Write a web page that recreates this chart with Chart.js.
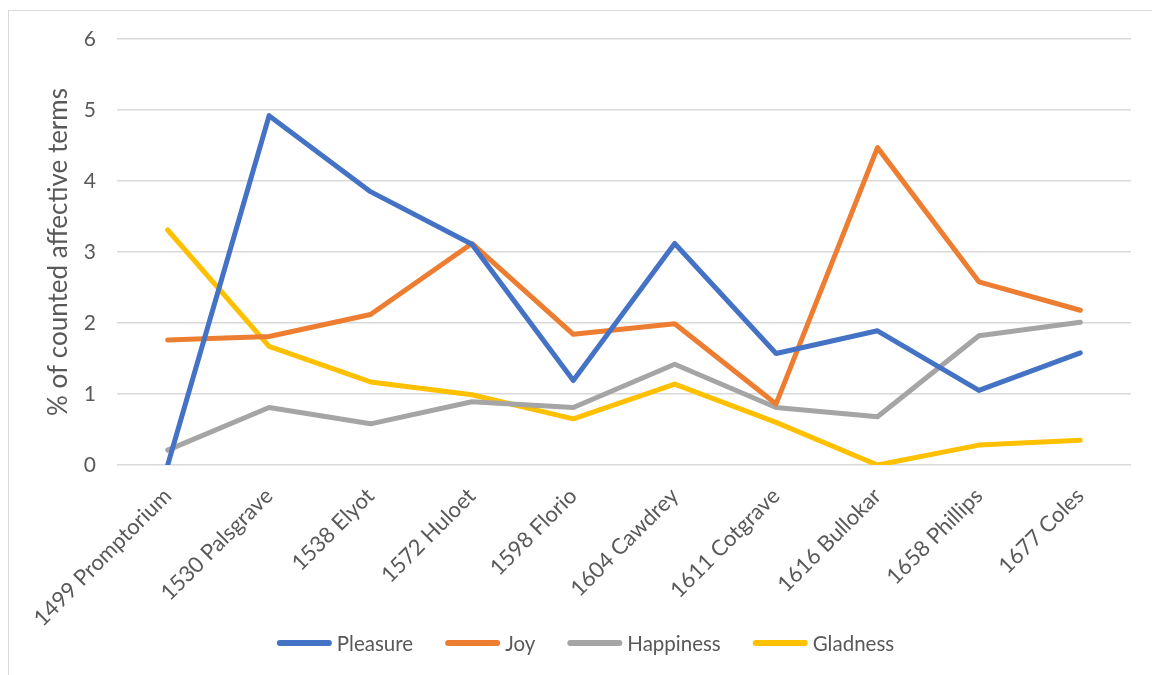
<!DOCTYPE html>
<html>
<head>
<meta charset="utf-8">
<script src="https://cdn.jsdelivr.net/npm/chart.js@4.4.1/dist/chart.umd.min.js"></script>
<style>
  html, body { margin: 0; padding: 0; background: #fff; overflow: hidden; }
  #wrap { position: relative; width: 1152px; height: 675px; }
  #frame {
    position: absolute; left: 8px; top: 10px; width: 1160px; height: 680px;
    border: 1.5px solid #d9d9d9; box-sizing: border-box;
  }
  canvas { position: absolute; left: 0; top: 0; }
</style>
</head>
<body>
<div id="wrap">
  <div id="frame"></div>
  <canvas id="lexChart" width="1152" height="675"></canvas>
</div>
<script>
const dictionaries = [
  "1499 Promptorium", "1530 Palsgrave", "1538 Elyot", "1572 Huloet", "1598 Florio",
  "1604 Cawdrey", "1611 Cotgrave", "1616 Bullokar", "1658 Phillips", "1677 Coles"
];

// % of counted affective terms per dictionary
const pleasure  = [0, 4.92, 3.85, 3.11, 1.19, 3.12, 1.57, 1.89, 1.05, 1.58];
const joy       = [1.76, 1.81, 2.12, 3.12, 1.84, 1.99, 0.86, 4.47, 2.58, 2.18];
const happiness = [0.21, 0.81, 0.58, 0.89, 0.81, 1.42, 0.81, 0.68, 1.82, 2.01];
const gladness  = [3.31, 1.67, 1.17, 0.99, 0.65, 1.14, 0.6, 0, 0.28, 0.35];

const yTicks = [0, 1, 2, 3, 4, 5, 6];

const textColor = "#595959";
const fontFamily = "Lato, 'Open Sans', sans-serif";

function series(label, data, color) {
  return {
    label,
    data,
    borderColor: color,
    backgroundColor: color,
    borderWidth: 5,
    borderCapStyle: "round",
    borderJoinStyle: "round",
    pointRadius: 0,
    pointHoverRadius: 0,
    tension: 0,
    fill: false,
  };
}

// legend row under the axis: short round-capped line, then the label close to it
const lineLegend = {
  id: "lineLegend",
  afterDraw(chart) {
    const { ctx } = chart;
    const sets = chart.data.datasets;
    const lineLen = 49, lineW = 6, gap = 8, spacing = 29;
    const cy = 643;
    ctx.save();
    ctx.font = `20.5px ${fontFamily}`;
    ctx.textBaseline = "middle";
    const widths = sets.map((ds) => lineW + lineLen + gap + ctx.measureText(ds.label).width);
    const total = widths.reduce((a, b) => a + b, 0) + spacing * (sets.length - 1);
    let x = (chart.width + 22) / 2 - total / 2;
    sets.forEach((ds, i) => {
      ctx.beginPath();
      ctx.lineWidth = lineW;
      ctx.lineCap = "round";
      ctx.strokeStyle = ds.borderColor;
      ctx.moveTo(x + lineW / 2, cy);
      ctx.lineTo(x + lineW / 2 + lineLen, cy);
      ctx.stroke();
      ctx.fillStyle = textColor;
      ctx.fillText(ds.label, x + lineW + lineLen + gap - 3, cy + 1);
      x += widths[i] + spacing;
    });
    ctx.restore();
  },
};

new Chart(document.getElementById("lexChart"), {
  type: "line",
  data: {
    labels: dictionaries,
    datasets: [
      series("Pleasure", pleasure, "#4472C4"),
      series("Joy", joy, "#ED7D31"),
      series("Happiness", happiness, "#A5A5A5"),
      series("Gladness", gladness, "#FFC000"),
    ],
  },
  plugins: [lineLegend],
  options: {
    responsive: false,
    animation: false,
    layout: { padding: { left: 43, right: 21, top: 39, bottom: 30 } },
    plugins: {
      tooltip: { enabled: false },
      legend: { display: false },
    },
    scales: {
      x: {
        offset: true,
        grid: { display: false },
        border: { display: false },
        afterFit: (scale) => { scale.height = 180; },
        ticks: {
          color: textColor,
          font: { family: fontFamily, size: 22 },
          autoSkip: false,
          minRotation: 45,
          maxRotation: 45,
          padding: 10,
        },
      },
      y: {
        min: 0,
        max: 6,
        afterBuildTicks: (axis) => {
          axis.ticks = yTicks.map((v) => ({ value: v }));
        },
        afterFit: (scale) => { scale.width = 74; },
        grid: { color: "#d9d9d9", lineWidth: 1.6, drawTicks: false },
        border: { display: false },
        ticks: {
          color: textColor,
          font: { family: fontFamily, size: 21 },
          padding: 21,
        },
        title: {
          display: true,
          text: "% of counted affective terms",
          color: textColor,
          font: { family: fontFamily, size: 26 },
          padding: { top: 0, bottom: 0 },
        },
      },
    },
  },
});
</script>
</body>
</html>
